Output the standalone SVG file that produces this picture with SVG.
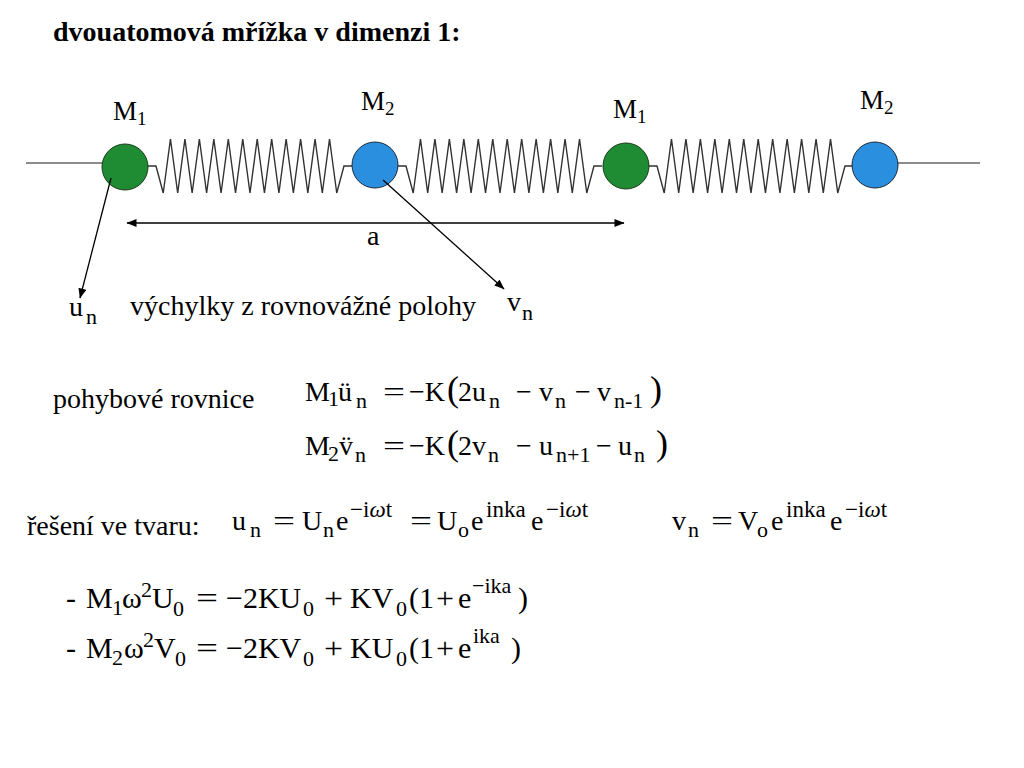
<svg xmlns="http://www.w3.org/2000/svg" width="1024" height="768" viewBox="0 0 1024 768">
<style>
text{font-family:"Liberation Serif","Times New Roman",serif;fill:#000}
.title{font-size:28px;font-weight:bold}
.body{font-size:28px}
.lab{font-size:27px}
.ls{font-size:19px}
.eq{font-size:28px}
.sub{font-size:22px}
.sup{font-size:23px}
.par{font-size:36px}
.eq2{font-size:30px}
.sub2{font-size:22px}
.it{font-style:italic}
.spring{fill:none;stroke:#333;stroke-width:1.4}
.rail{stroke:#666;stroke-width:1.3}
.m1{fill:#1f8b33;stroke:#1a3a1a;stroke-width:1}
.m2{fill:#2b8fe0;stroke:#1a2a3a;stroke-width:1}
.arr{stroke:#000;stroke-width:1.3;fill:none}
</style>
<defs>
<marker id="ah" viewBox="0 0 10 8" refX="9.5" refY="4" markerWidth="11" markerHeight="8" markerUnits="userSpaceOnUse" orient="auto-start-reverse">
<path d="M0,0 L10,4 L0,8 z" fill="#000"/>
</marker>
<path id="spr" class="spring" d="M0,0 h8 l7.23,27 l7.23,-54 l7.23,54 l7.23,-54 l7.23,54 l7.23,-54 l7.23,54 l7.23,-54 l7.23,54 l7.23,-54 l7.23,54 l7.23,-54 l7.23,54 l7.23,-54 l7.23,54 l7.23,-54 l7.23,54 l7.23,-54 l7.23,54 l7.23,-54 l7.23,54 l7.23,-54 l7.23,54 l7.23,-54 l7.23,54 l7.23,-27 h8"/>
</defs>
<rect width="1024" height="768" fill="#fff"/>

<text class="title" x="53" y="41">dvouatomová mřížka v dimenzi 1:</text>

<g id="chain">
<line class="rail" x1="26" y1="163" x2="104" y2="163"/>
<line class="rail" x1="897" y1="163" x2="980" y2="163"/>
<use href="#spr" x="148" y="166"/>
<use href="#spr" x="398" y="166"/>
<use href="#spr" x="649" y="166"/>
</g>

<g id="atom1">
<circle class="m1" cx="125" cy="167" r="23"/>
<text class="lab" x="113" y="120">M<tspan class="ls" dy="5">1</tspan></text>
</g>
<g id="atom2">
<circle class="m2" cx="375" cy="165" r="23"/>
<text class="lab" x="361" y="110">M<tspan class="ls" dy="5">2</tspan></text>
</g>
<g id="atom3">
<circle class="m1" cx="626" cy="166" r="23"/>
<text class="lab" x="613" y="118">M<tspan class="ls" dy="5">1</tspan></text>
</g>
<g id="atom4">
<circle class="m2" cx="875" cy="165" r="23"/>
<text class="lab" x="860" y="109">M<tspan class="ls" dy="5">2</tspan></text>
</g>

<g id="connectors">
<line class="arr" x1="127" y1="223" x2="624" y2="223" marker-start="url(#ah)" marker-end="url(#ah)"/>
<line class="arr" x1="111" y1="178" x2="80" y2="298" marker-end="url(#ah)"/>
<line class="arr" x1="383" y1="180" x2="504" y2="289" marker-end="url(#ah)"/>
</g>

<text class="body" x="367" y="245">a</text>
<g id="un">
<text class="body" x="69" y="316">u<tspan class="sub" x="86" y="324">n</tspan></text>
</g>
<text class="body" x="130" y="315">výchylky z rovnovážné polohy</text>
<g id="vn">
<text class="body" x="507" y="311">v<tspan class="sub" x="522" y="320">n</tspan></text>
</g>

<text class="body" x="53" y="408">pohybové rovnice</text>

<text class="eq" y="401"><tspan x="305">M</tspan><tspan class="sub" x="328" y="406">1</tspan><tspan x="338" y="401">ü</tspan><tspan class="sub" x="356" y="408">n</tspan><tspan x="383" y="401" textLength="22" lengthAdjust="spacingAndGlyphs">=</tspan><tspan x="409">−K</tspan><tspan class="par" x="447">(</tspan><tspan x="458">2u</tspan><tspan class="sub" x="489" y="408">n</tspan><tspan x="516" y="401">−</tspan><tspan x="539">v</tspan><tspan class="sub" x="555" y="408">n</tspan><tspan x="575" y="401">−</tspan><tspan x="597">v</tspan><tspan class="sub" x="614" y="408">n-1</tspan><tspan class="par" x="650" y="401">)</tspan></text>

<text class="eq" y="455"><tspan x="305">M</tspan><tspan class="sub" x="328" y="461">2</tspan><tspan x="339" y="455">v̈</tspan><tspan class="sub" x="355" y="462">n</tspan><tspan x="383" y="455" textLength="22" lengthAdjust="spacingAndGlyphs">=</tspan><tspan x="409">−K</tspan><tspan class="par" x="447">(</tspan><tspan x="458">2v</tspan><tspan class="sub" x="488" y="462">n</tspan><tspan x="516" y="455">−</tspan><tspan x="539">u</tspan><tspan class="sub" x="556" y="462">n+1</tspan><tspan x="596" y="455">−</tspan><tspan x="618">u</tspan><tspan class="sub" x="634" y="462">n</tspan><tspan class="par" x="656" y="455">)</tspan></text>

<text class="body" x="27" y="535">řešení ve tvaru:</text>

<text class="eq" y="530"><tspan x="232">u</tspan><tspan class="sub" x="250" y="537">n</tspan><tspan x="273" y="530" textLength="22" lengthAdjust="spacingAndGlyphs">=</tspan><tspan x="302">U</tspan><tspan class="sub" x="323" y="537">n</tspan><tspan x="336" y="530">e</tspan><tspan class="sup" x="350" y="517">−i<tspan class="it">ω</tspan>t</tspan><tspan x="410" y="530" textLength="22" lengthAdjust="spacingAndGlyphs">=</tspan><tspan x="437">U</tspan><tspan class="sub" x="458" y="537">o</tspan><tspan x="471" y="530">e</tspan><tspan class="sup" x="486" y="517">inka</tspan><tspan x="531" y="530">e</tspan><tspan class="sup" x="546" y="517">−i<tspan class="it">ω</tspan>t</tspan></text>

<text class="eq" y="530"><tspan x="672">v</tspan><tspan class="sub" x="688" y="537">n</tspan><tspan x="711" y="530" textLength="22" lengthAdjust="spacingAndGlyphs">=</tspan><tspan x="738">V</tspan><tspan class="sub" x="757" y="537">o</tspan><tspan x="771" y="530">e</tspan><tspan class="sup" x="786" y="517">inka</tspan><tspan x="830" y="530">e</tspan><tspan class="sup" x="845" y="517">−i<tspan class="it">ω</tspan>t</tspan></text>

<text class="eq2" y="608"><tspan x="66">-</tspan><tspan x="86">M</tspan><tspan class="sub2" x="112" y="615">1</tspan><tspan x="122" y="608">ω</tspan><tspan class="sub2" x="141" y="597">2</tspan><tspan x="152" y="608">U</tspan><tspan class="sub2" x="173" y="616">0</tspan><tspan x="196" y="608" textLength="22" lengthAdjust="spacingAndGlyphs">=</tspan><tspan x="226">−2KU</tspan><tspan class="sub2" x="303" y="616">0</tspan><tspan x="324" y="608" textLength="19" lengthAdjust="spacingAndGlyphs">+</tspan><tspan x="350">KV</tspan><tspan class="sub2" x="396" y="616">0</tspan><tspan x="409" y="608">(</tspan><tspan x="419">1</tspan><tspan x="436" textLength="18" lengthAdjust="spacingAndGlyphs">+</tspan><tspan x="458">e</tspan><tspan class="sub2" x="472" y="593">−ika</tspan><tspan x="518" y="608">)</tspan></text>

<text class="eq2" y="658"><tspan x="66">-</tspan><tspan x="86">M</tspan><tspan class="sub2" x="112" y="665">2</tspan><tspan x="124" y="658">ω</tspan><tspan class="sub2" x="143" y="647">2</tspan><tspan x="154" y="658">V</tspan><tspan class="sub2" x="175" y="666">0</tspan><tspan x="196" y="658" textLength="22" lengthAdjust="spacingAndGlyphs">=</tspan><tspan x="226">−2KV</tspan><tspan class="sub2" x="303" y="666">0</tspan><tspan x="324" y="658" textLength="19" lengthAdjust="spacingAndGlyphs">+</tspan><tspan x="350">KU</tspan><tspan class="sub2" x="396" y="666">0</tspan><tspan x="409" y="658">(</tspan><tspan x="419">1</tspan><tspan x="436" textLength="18" lengthAdjust="spacingAndGlyphs">+</tspan><tspan x="458">e</tspan><tspan class="sub2" x="473" y="643">ika</tspan><tspan x="511" y="658">)</tspan></text>
</svg>
